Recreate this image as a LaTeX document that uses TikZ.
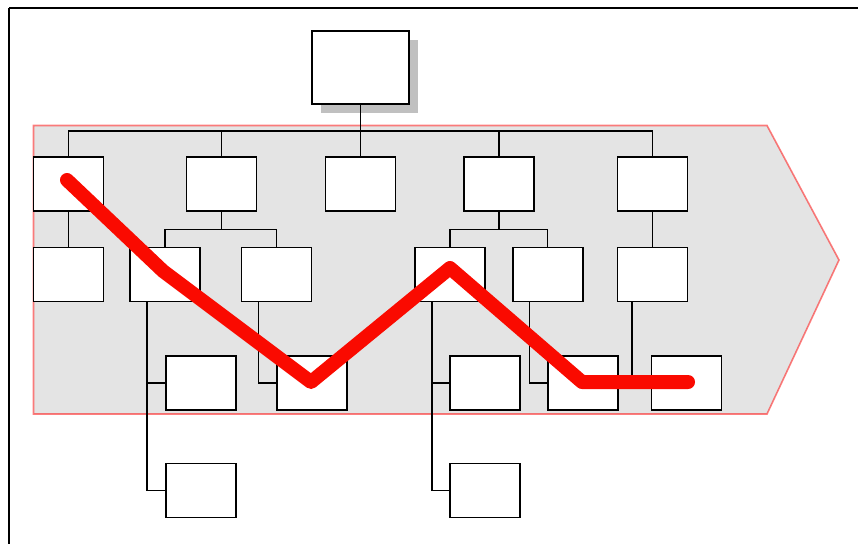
\documentclass[tikz,border=0pt]{standalone}
\definecolor{bandgray}{RGB}{228,228,228}
\definecolor{shadowgray}{RGB}{192,192,192}
\definecolor{hlred}{RGB}{250,10,0}
\tikzset{
  box/.style={draw=black, fill=white, line width=1.5pt, minimum width=70pt, minimum height=54pt, inner sep=0pt},
  conn/.style={draw=black, line width=1.2pt},
  frameline/.style={draw=black, line width=1.5pt},
  band/.style={fill=bandgray, draw=red, draw opacity=0.5, line width=1.6pt, line join=miter},
  highlight/.style={draw=hlred, line width=14pt, line cap=round, line join=round},
  shadowbox/.style={fill=shadowgray, draw=none}
}
\begin{document}
\begin{tikzpicture}[x=1pt,y=-1pt]
\useasboundingbox (0,0) rectangle (858,544);
% frame (top and left only)
\draw[frameline] (9,8) -- (858,8);
\draw[frameline] (9,8) -- (9,544);
% band arrow
\path[band] (33.5,125.5) -- (767,125.5) -- (839,260) -- (767,414) -- (33.5,414) -- cycle;
% top box with shadow
\fill[shadowbox] (321,40) rectangle (418,113);
\node[box, minimum width=97pt, minimum height=73pt] (T) at (360.5,67.5) {};
% row 1
\node[box] (B1) at (68.3,184) {};
\node[box] (B2) at (221.5,184) {};
\node[box] (B3) at (360.5,184) {};
\node[box] (B4) at (499,184) {};
\node[box] (B5) at (652.5,184) {};
% row 2
\node[box] (C1) at (68.3,274.5) {};
\node[box] (C2) at (165,274.5) {};
\node[box] (C3) at (276.5,274.5) {};
\node[box] (C4) at (450,274.5) {};
\node[box] (C5) at (547.8,274.5) {};
\node[box] (C6) at (652.5,274.5) {};
% row 3
\node[box] (D1) at (200.8,383) {};
\node[box] (D2) at (312.2,383) {};
\node[box] (D3) at (485,383) {};
\node[box] (D4) at (583,383) {};
\node[box] (D5) at (686.5,383) {};
% row 4
\node[box] (E1) at (200.8,490.5) {};
\node[box] (E2) at (485,490.5) {};
% bus
\coordinate (bus) at (0,131);
\draw[conn] (B1.north) -- (B1.north |- bus) -- (B5.north |- bus) -- (B5.north);
\draw[conn] (T.south) -- (B3.north);
\draw[conn] (B2.north) -- (B2.north |- bus);
\draw[conn] (B4.north) -- (B4.north |- bus);
% row1 -> row2
\draw[conn] (B1.south) -- (C1.north);
\draw[conn] (B2.south) -- ++(0,18) coordinate (m2);
\draw[conn] (C2.north) |- (m2) -| (C3.north);
\draw[conn] (B4.south) -- ++(0,18) coordinate (m4);
\draw[conn] (C4.north) |- (m4) -| (C5.north);
\draw[conn] (B5.south) -- (C6.north);
% row2 -> row3/4
\coordinate (s2) at ([xshift=17.7pt]C2.south west);
\draw[conn] (s2) |- (E1.west);
\draw[conn] (s2) |- (D1.west);
\coordinate (s3) at ([xshift=18pt]C3.south west);
\draw[conn] (s3) |- (D2.west);
\coordinate (s4) at ([xshift=17.7pt]C4.south west);
\draw[conn] (s4) |- (E2.west);
\draw[conn] (s4) |- (D3.west);
\coordinate (s5) at ([xshift=17.3pt]C5.south west);
\draw[conn] (s5) |- (D4.west);
\coordinate (s6) at ([xshift=15.3pt]C6.south west);
\draw[conn] (s6) |- (D5.west);
% highlight path
\coordinate (h1) at (67,180);
\coordinate (h2) at (163,271);
\coordinate (h3) at (311,382);
\coordinate (h4) at (450,268);
\coordinate (h5) at (582,382);
\coordinate (h6) at (688,382);
\draw[highlight] (h1) -- (h2) -- (h3) -- (h4) -- (h5) -- (h6);
\end{tikzpicture}
\end{document}
